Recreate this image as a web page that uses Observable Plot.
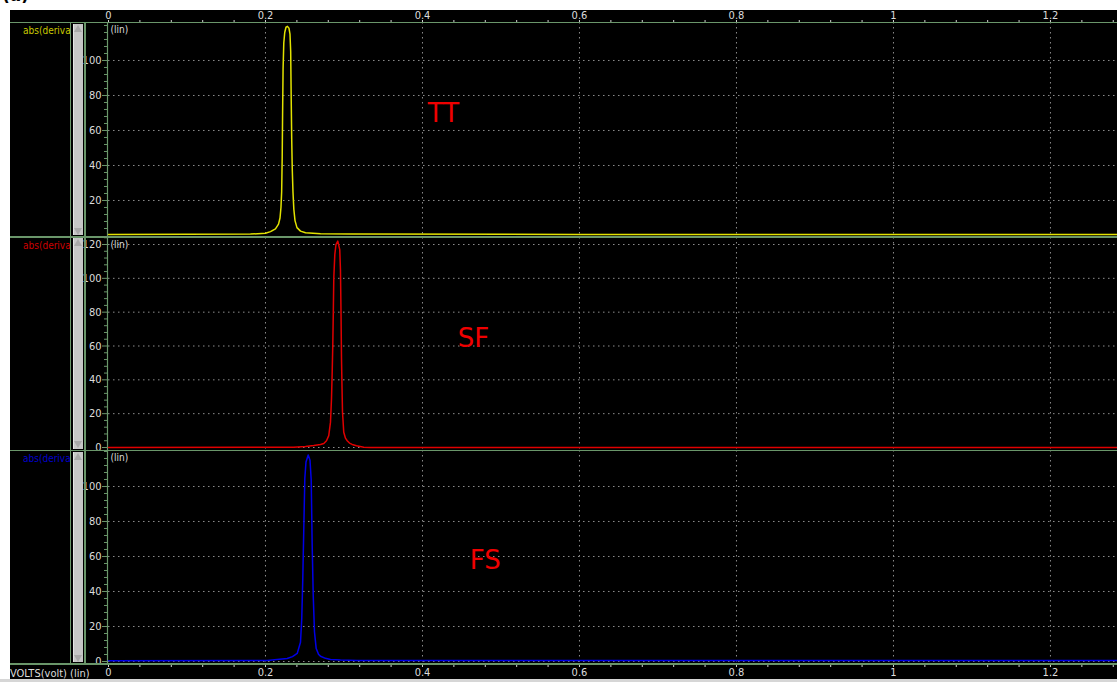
<!DOCTYPE html>
<html>
<head>
<meta charset="utf-8">
<script src="https://cdn.jsdelivr.net/npm/d3@7"></script>
<script src="https://cdn.jsdelivr.net/npm/@observablehq/plot@0.6"></script>
<style>
  html, body { margin: 0; padding: 0; background: #fff; }
  body { width: 1117px; height: 682px; overflow: hidden; position: relative;
         font-family: "DejaVu Sans Condensed", "DejaVu Sans", sans-serif; }
  .abs { position: absolute; }
  #black { left: 10px; top: 10px; width: 1107px; height: 669px; background: #000; }
  #bottomstrip { left: 0; top: 679px; width: 1117px; height: 3px; background: #d6d6d6; }
  .sep { left: 10px; width: 1107px; height: 1.5px; background: #6a966a; }
  .vline { width: 1.5px; background: #6a966a; top: 22px; height: 642px; }
  .bar { left: 73px; width: 9px; background: #c6c6c6; border-left: 1px solid #e4e4e4; }
  .tri-up { width: 0; height: 0; border-left: 4px solid transparent; border-right: 4px solid transparent;
            border-bottom: 7px solid #a8a8a8; left: 74px; }
  .tri-dn { width: 0; height: 0; border-left: 4px solid transparent; border-right: 4px solid transparent;
            border-top: 7px solid #a8a8a8; left: 74px; }
  .sig { left: 23px; white-space: nowrap; font-size: 10px; line-height: 12px; }
  .svgwrap { position: absolute; left: 10px; }
  .svgwrap svg { display: block; overflow: visible; }
  #xname { left: 10px; top: 667px; font-size: 11px; color: #dcdcdc; white-space: nowrap; }
  #figclip { left: 0; top: 0; width: 60px; height: 10px; overflow: hidden; }
  #fig { left: 2px; top: -15px; font-size: 17px; font-weight: bold; color: #000; font-family: "DejaVu Sans", sans-serif; line-height: 20px; }
</style>
</head>
<body>
<div id="figclip" class="abs"><div id="fig" class="abs">(a)</div></div>
<div id="black" class="abs"></div>
<div id="bottomstrip" class="abs"></div>
<div id="root"></div>
<script>
// ---------- data ----------
const xTicks = [0, 0.2, 0.4, 0.6, 0.8, 1, 1.2];
const xTickLabels = ["0", "0.2", "0.4", "0.6", "0.8", "1", "1.2"];
const xMinorTicks = [0.04,0.08,0.12,0.16,0.24,0.28,0.32,0.36,0.44,0.48,0.52,0.56,0.64,0.68,0.72,0.76,
                     0.84,0.88,0.92,0.96,1.04,1.08,1.12,1.16,1.24,1.28];
const xMax = 1.2854;

const seriesNames = ["TT", "SF", "FS"];
const signalName = "abs(deriva";
const curveColors = ["#e2e200", "#e00000", "#0000e6"];
const signalColors = ["#c8c800", "#cc0000", "#0000cc"];

// TT (yellow)
const ttVolts = [0, 0.10, 0.1809, 0.2000, 0.2064, 0.2127, 0.2166, 0.2185, 0.2197, 0.2206, 0.2213, 0.2218,
                 0.2224, 0.2233, 0.2245, 0.2261, 0.2280, 0.2299, 0.2312, 0.2321, 0.2327, 0.2334, 0.2341,
                 0.2350, 0.2361, 0.2376, 0.2401, 0.2446, 0.2510, 0.2701, 0.3083, 0.6, 1.2854];
const ttValues = [0.6, 0.7, 0.8, 1.3, 2.2, 3.8, 6.5, 10, 16, 25, 45, 70,
                  95, 110, 116, 119, 119.5, 118.5, 115, 105, 80, 55, 38,
                  25, 15, 8.5, 4.5, 2.5, 1.6, 1.0, 0.8, 0.6, 0.6];

// SF (red)
const sfVolts = [0, 0.2357, 0.2510, 0.2615, 0.2701, 0.2743, 0.2777, 0.2806, 0.2828, 0.2841, 0.2850, 0.2857,
                 0.2864, 0.2870, 0.2883, 0.2898, 0.2921, 0.2946, 0.2955, 0.2962, 0.2968, 0.2975, 0.2981,
                 0.2997, 0.3019, 0.3041, 0.3070, 0.3104, 0.3159, 0.3252, 0.3338, 1.2854];
const sfValues = [0, 0.1, 0.6, 1.2, 1.8, 2.4, 4, 7, 15, 29, 45, 60,
                  80, 100, 114, 120, 122, 117, 105, 80, 53, 35, 21,
                  9, 5.5, 4, 2.6, 1.8, 1.0, 0.2, 0.05, 0];

// FS (blue)
const fsVolts = [0, 0.2022, 0.2276, 0.2344, 0.2404, 0.2446, 0.2462, 0.2475, 0.2488, 0.2501, 0.2516, 0.2544,
                 0.2567, 0.2582, 0.2595, 0.2608, 0.2624, 0.2646, 0.2675, 0.2701, 0.2764, 0.2828, 0.2955,
                 0.3168, 1.2854];
const fsValues = [0.4, 0.6, 1.7, 2.8, 4.6, 11, 24.6, 47, 76, 104.6, 114, 118,
                  115, 104, 66, 38, 17, 7.4, 4.2, 3, 1.8, 1.1, 0.8,
                  0.6, 0.5];

const labelVolts = [0.4268, 0.465, 0.48];
const labelValues = [69.7, 64.5, 57.7];

const yTicks1 = [20, 40, 60, 80, 100];
const yTicks2 = [0, 20, 40, 60, 80, 100, 120];
const yTicks3 = [0, 20, 40, 60, 80, 100];
const yMinor1 = [4,8,12,16,24,28,32,36,44,48,52,56,64,68,72,76,84,88,92,96,104,108,112,116,120];
const yMinor2 = [4,8,12,16,24,28,32,36,44,48,52,56,64,68,72,76,84,88,92,96,104,108,112,116,124];
const yMinor3 = [4,8,12,16,24,28,32,36,44,48,52,56,64,68,72,76,84,88,92,96,104,108,112,116,120];

// ---------- layout ----------
const green = "#6a966a";
const gridColor = "#8c8c8c";
const axisText = "#dcdcdc";
const font = '"DejaVu Sans Condensed", "DejaVu Sans", sans-serif';

const panels = [
  {volts: ttVolts, values: ttValues, top: 10, h: 227, mt: 12, mb: 0, yDomain: [-1.143, 121.71], ticks: yTicks1, minor: yMinor1, sTop: 22, sBot: 236.5},
  {volts: sfVolts, values: sfValues, top: 237, h: 213, mt: 0, mb: 0, yDomain: [-1.773, 124.14], ticks: yTicks2, minor: yMinor2, sTop: 236.5, sBot: 450},
  {volts: fsVolts, values: fsValues, top: 450, h: 229, mt: 0, mb: 15, yDomain: [-1.714, 120.57], ticks: yTicks3, minor: yMinor3, sTop: 450, sBot: 663.5}
];

const root = document.getElementById("root");

panels.forEach((p, i) => {
  const data = p.volts.map((v, j) => ({v, y: p.values[j]}));
  const marks = [
    Plot.gridX(xTicks.slice(1), {stroke: gridColor, strokeOpacity: 1, strokeWidth: 1, strokeDasharray: "1.5,3.5"}),
    Plot.gridY(p.ticks, {stroke: gridColor, strokeOpacity: 1, strokeWidth: 1, strokeDasharray: "1.5,3.5"}),
    Plot.axisY(p.minor, {tickSize: 3, tickFormat: () => "", stroke: green, dx: -1, label: null}),
    Plot.axisY(p.ticks, {tickSize: 5, tickPadding: 1, tickFormat: d => String(d), stroke: green, fill: axisText, fontSize: 11, dx: -1, label: null}),
    Plot.ruleX([0], {stroke: green, strokeWidth: 1.2, dx: -1}),
    Plot.line(data, {x: "v", y: "y", stroke: curveColors[i], strokeWidth: 1.5}),
    Plot.text(["(lin)"], {frameAnchor: "top-left", dx: 2, dy: 3, fill: axisText, fontSize: 10, textAnchor: "start", lineAnchor: "top"}),
    Plot.text([seriesNames[i]], {x: () => labelVolts[i], y: () => labelValues[i], fill: "#f00000", fontSize: 26, fontFamily: '"DejaVu Sans", sans-serif'})
  ];
  if (i === 0) {
    marks.push(Plot.axisX(xMinorTicks, {anchor: "top", tickSize: 3, tickFormat: () => "", stroke: "#d0d0d0", label: null}));
    marks.push(Plot.axisX(xTicks, {anchor: "top", tickSize: 3, tickPadding: 1, tickFormat: (d, k) => xTickLabels[k], stroke: "#d0d0d0", fill: axisText, fontSize: 11, label: null}));
  }
  if (i === 2) {
    marks.push(Plot.axisX(xMinorTicks, {anchor: "bottom", tickSize: 3, tickFormat: () => "", stroke: "#d0d0d0", label: null}));
    marks.push(Plot.axisX(xTicks, {anchor: "bottom", tickSize: 3, tickPadding: 1, tickFormat: (d, k) => xTickLabels[k], stroke: "#d0d0d0", fill: axisText, fontSize: 11, label: null}));
  }
  const chart = Plot.plot({
    width: 1107, height: p.h,
    marginLeft: 98, marginRight: 0, marginTop: p.mt, marginBottom: p.mb,
    style: {background: "transparent", color: axisText, fontFamily: font, fontSize: "11px", overflow: "visible"},
    x: {domain: [0, xMax], axis: null, label: null},
    y: {domain: p.yDomain, axis: null, label: null},
    marks
  });
  const wrap = document.createElement("div");
  wrap.className = "svgwrap";
  wrap.style.top = p.top + "px";
  wrap.appendChild(chart);
  root.appendChild(wrap);

  // signal label
  const lab = document.createElement("div");
  lab.className = "abs sig";
  lab.style.top = (p.sTop + 3) + "px";
  lab.style.color = signalColors[i];
  lab.textContent = signalName;
  root.appendChild(lab);

  // scrollbar thumb
  const bar = document.createElement("div");
  bar.className = "abs bar";
  bar.style.top = (p.sTop + 1.5) + "px";
  bar.style.height = (p.sBot - p.sTop - 3) + "px";
  root.appendChild(bar);
  const up = document.createElement("div");
  up.className = "abs tri-up";
  up.style.top = (p.sTop + 2.5) + "px";
  root.appendChild(up);
  const dn = document.createElement("div");
  dn.className = "abs tri-dn";
  dn.style.top = (p.sBot - 9) + "px";
  root.appendChild(dn);
});

// separators and frame lines
[21.5, 236, 449.5, 663].forEach(y => {
  const s = document.createElement("div");
  s.className = "abs sep";
  s.style.top = y + "px";
  root.appendChild(s);
});
[69.5, 84].forEach(x => {
  const v = document.createElement("div");
  v.className = "abs vline";
  v.style.left = x + "px";
  root.appendChild(v);
});

const xn = document.createElement("div");
xn.className = "abs";
xn.id = "xname";
xn.textContent = "VOLTS(volt) (lin)";
root.appendChild(xn);
</script>
</body>
</html>
